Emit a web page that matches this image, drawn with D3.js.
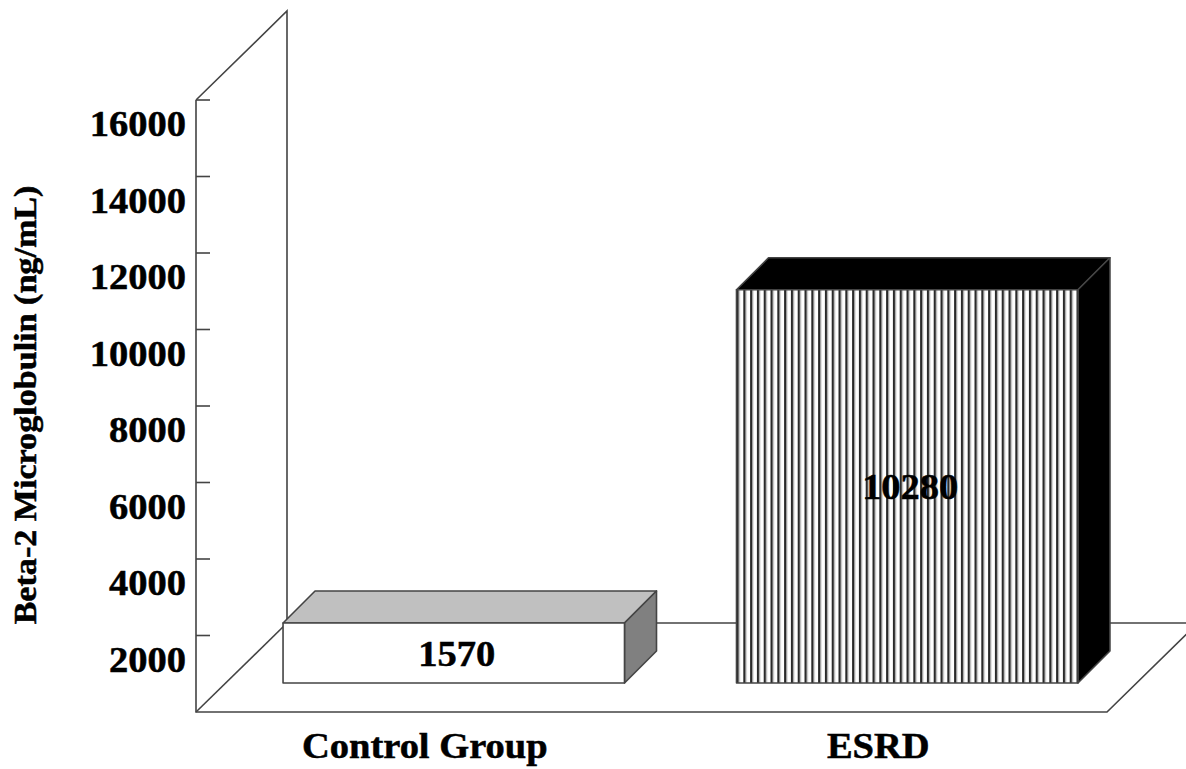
<!DOCTYPE html>
<html>

<head>
	<meta charset="utf-8">
	<script src="https://cdn.jsdelivr.net/npm/d3@7"></script>
	<style>
		body {
			margin: 0;
			background: white;
		}

		text {
			font-family: "Liberation Serif", "Times New Roman", serif;
			font-weight: bold;
			fill: black;
			stroke: black;
			stroke-width: 0.5;
		}

		.frame {
			stroke: #444;
			stroke-width: 1.6;
			fill: none;
		}

		.edge {
			stroke: #444;
			stroke-width: 1.6;
			stroke-linejoin: round;
		}
	</style>
</head>

<body>
	<svg></svg>
	<script>
		// data
		var categories = ["Control Group", "ESRD"];
		var values = [1570, 10280];
		var yTicks = [2000, 4000, 6000, 8000, 10000, 12000, 14000, 16000];

		var width = 1186;
		var height = 769;

		// front plane of the floor / axis
		var x0 = 196, x1 = 1107;
		var yBottom = 712, yTop = 100;
		// depth of the whole box and of the bars (oblique projection)
		var depth = { dx: 91, dy: -89 };
		var barOff = 29;    // bar front sits this far back
		var barDepth = 32;  // bar thickness
		var stretch = 1.1;  // text in the picture is a bit wide

		var svg = d3.select("svg")
			.attr("width", width)
			.attr("height", height);

		var y = d3.scaleLinear()
			.domain([0, 16000])
			.range([yBottom, yTop]);

		var x = d3.scaleBand()
			.domain(categories)
			.range([x0, x1])
			.paddingInner(0.247)
			.paddingOuter(0.128);

		// stripe pattern for the ESRD bar
		var defs = svg.append("defs");
		var pat = defs.append("pattern")
			.attr("id", "stripes")
			.attr("patternUnits", "userSpaceOnUse")
			.attr("x", x("ESRD") + barOff)
			.attr("y", 0)
			.attr("width", 6.8)
			.attr("height", 10);
		pat.append("rect").attr("width", 6.8).attr("height", 10).attr("fill", "white");
		pat.append("rect").attr("x", 0).attr("width", 2.2).attr("height", 10).attr("fill", "#2a2a2a");
		pat.append("rect").attr("x", 2.2).attr("width", 1).attr("height", 10).attr("fill", "#999");

		// back wall and floor
		var bx = x0 + depth.dx, byTop = yTop + depth.dy, byBot = yBottom + depth.dy;
		var frame = svg.append("g").attr("class", "frame");
		frame.append("path")
			.attr("d", d3.line()([[x0, yTop], [x0, yBottom], [x1, yBottom], [x1 + depth.dx, byBot]]));
		frame.append("path")
			.attr("d", d3.line()([[x0, yTop], [bx, byTop], [bx, byBot], [x1 + depth.dx, byBot]]));
		frame.append("path")
			.attr("d", d3.line()([[x0, yBottom], [bx, byBot]]));

		// ticks on the front axis
		frame.selectAll(".tick")
			.data(yTicks)
			.enter()
			.append("line")
			.attr("x1", x0)
			.attr("x2", x0 + 14)
			.attr("y1", d => y(d))
			.attr("y2", d => y(d));

		// tick labels
		svg.selectAll(".ylab")
			.data(yTicks)
			.enter()
			.append("text")
			.attr("class", "ylab")
			.attr("text-anchor", "end")
			.attr("font-size", 35)
			.attr("transform", d => "translate(186," + (y(d) + 36) + ") scale(" + stretch + ",1)")
			.text(d => d);

		// bars
		var faces = [
			{ front: "white", top: "#c0c0c0", side: "#808080" },
			{ front: "url(#stripes)", top: "black", side: "black" }
		];

		var bars = svg.selectAll(".bar")
			.data(categories.map((c, i) => ({ cat: c, value: values[i], f: faces[i] })))
			.enter()
			.append("g")
			.attr("class", "bar");

		function geom(d) {
			var left = x(d.cat) + barOff;
			var right = left + x.bandwidth();
			var bot = y(0) - barOff;
			var top = y(d.value) - barOff;
			return { left: left, right: right, bot: bot, top: top };
		}

		bars.append("path")
			.attr("class", "edge")
			.attr("fill", d => d.f.top)
			.attr("d", d => {
				var g = geom(d);
				return d3.line()([[g.left, g.top], [g.left + barDepth, g.top - barDepth],
				[g.right + barDepth, g.top - barDepth], [g.right, g.top]]) + "Z";
			});

		bars.append("path")
			.attr("class", "edge")
			.attr("fill", d => d.f.side)
			.attr("d", d => {
				var g = geom(d);
				return d3.line()([[g.right, g.top], [g.right + barDepth, g.top - barDepth],
				[g.right + barDepth, g.bot - barDepth], [g.right, g.bot]]) + "Z";
			});

		bars.append("rect")
			.attr("class", "edge")
			.attr("fill", d => d.f.front)
			.attr("x", d => geom(d).left)
			.attr("y", d => geom(d).top)
			.attr("width", x.bandwidth())
			.attr("height", d => geom(d).bot - geom(d).top);

		// value labels
		bars.append("text")
			.attr("text-anchor", "middle")
			.attr("font-size", 35)
			.attr("transform", d => {
				var g = geom(d);
				return "translate(" + ((g.left + g.right) / 2 + 3) + "," + ((g.top + g.bot) / 2 + 13) + ") scale(" + stretch + ",1)";
			})
			.text(d => d.value);

		// category labels
		svg.selectAll(".xlab")
			.data(categories)
			.enter()
			.append("text")
			.attr("class", "xlab")
			.attr("text-anchor", "middle")
			.attr("font-size", 35)
			.attr("transform", d => "translate(" + (x(d) + x.bandwidth() / 2) + ",758) scale(" + stretch + ",1)")
			.text(d => d);

		// y axis title
		svg.append("text")
			.attr("text-anchor", "middle")
			.attr("font-size", 31)
			.attr("transform", "translate(36,405) rotate(-90) scale(" + stretch + ",1)")
			.text("Beta-2 Microglobulin (ng/mL)");
	</script>
</body>

</html>
